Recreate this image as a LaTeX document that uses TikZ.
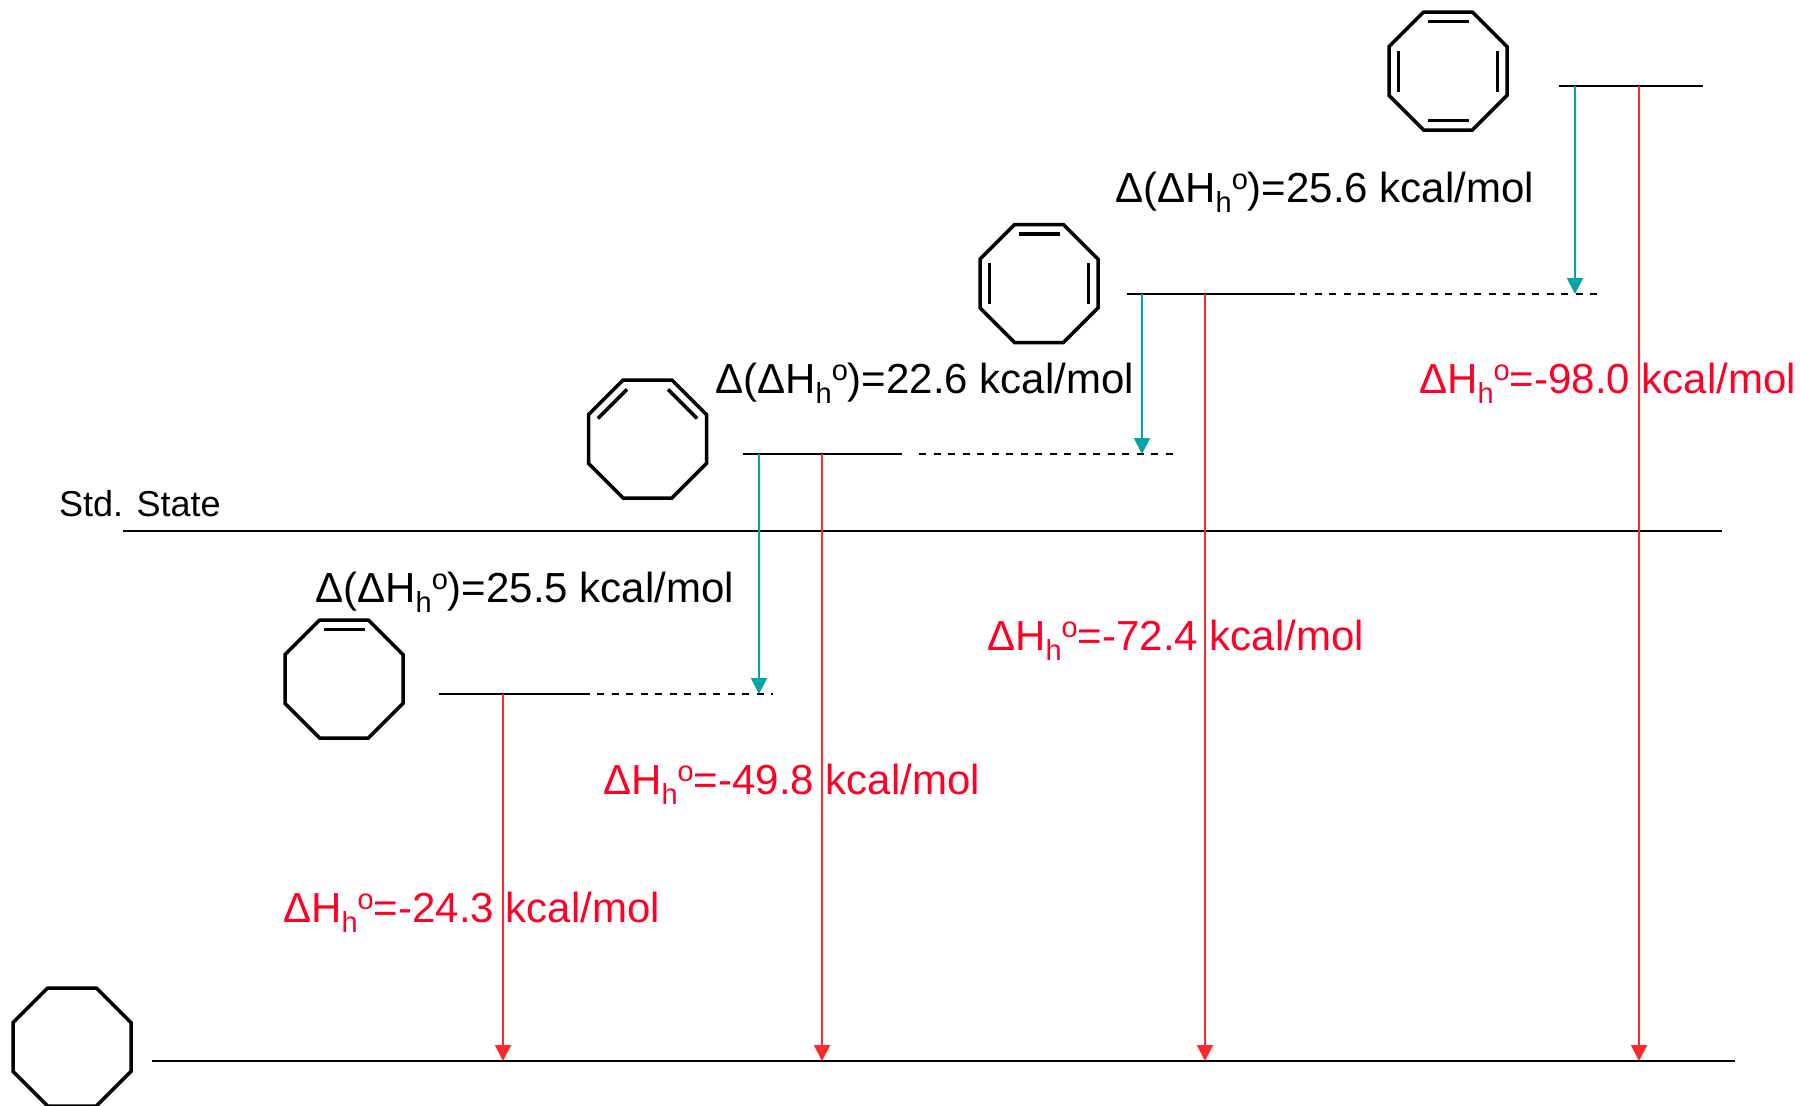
\documentclass[tikz,border=0pt]{standalone}
\usepackage{fontspec}
\setmainfont{Liberation Sans}
\usetikzlibrary{arrows.meta}
\definecolor{lnred}{RGB}{255,40,40}
\definecolor{txred}{RGB}{255,0,38}
\definecolor{tealc}{RGB}{0,166,166}
\newcommand\hsub{\raisebox{-10.5pt}{\fontsize{29}{29}\selectfont h}}
\newcommand\osup{\raisebox{12.6pt}{\fontsize{29}{29}\selectfont o}}
\newcommand\ddH[1]{Δ(ΔH\hsub\osup)=#1 kcal/mol}
\newcommand\dH[1]{ΔH\hsub\osup=#1 kcal/mol}
\tikzset{
  ringline/.style={line width=3.5pt, line join=miter},
  level/.style={line width=2.2pt},
  dashlevel/.style={line width=2.2pt, dash pattern=on 7pt off 7.5pt},
  tarrow/.style={line width=2pt, draw=tealc, -{Triangle[width=16pt,length=16pt]}, fill=tealc},
  rarrow/.style={line width=2pt, draw=lnred, -{Triangle[width=16pt,length=16pt]}, fill=lnred},
  blabel/.style={anchor=base west, inner sep=0pt, font=\fontsize{42}{50}\selectfont},
  rlabel/.style={blabel, text=txred},
  ring/.pic={\draw[ringline] (-24.4,-59) -- (24.4,-59) -- (59,-24.4) -- (59,24.4) -- (24.4,59) -- (-24.4,59) -- (-59,24.4) -- (-59,-24.4) -- cycle;},
  dbtop/.pic={\draw[ringline] (-20.5,-49.6) -- (20.5,-49.6);},
  dbbot/.pic={\draw[ringline] (-20.5,49.6) -- (20.5,49.6);},
  dbleft/.pic={\draw[ringline] (-49.6,-20.5) -- (-49.6,20.5);},
  dbright/.pic={\draw[ringline] (49.6,-20.5) -- (49.6,20.5);},
  dbul/.pic={\draw[ringline] (-49.6,-20.5) -- (-20.5,-49.6);},
  dbur/.pic={\draw[ringline] (49.6,-20.5) -- (20.5,-49.6);},
}
\begin{document}
\begin{tikzpicture}[x=1pt,y=-1pt]
\useasboundingbox (0,0) rectangle (1800,1106);

% molecules
\coordinate (mane) at (72,1047);
\coordinate (mene) at (344,679);
\coordinate (mdiene) at (647.5,439);
\coordinate (mtriene) at (1039,283.5);
\coordinate (mtetra) at (1448,71);
\pic at (mane) {ring};
\pic at (mene) {ring}; \pic at (mene) {dbtop};
\pic at (mdiene) {ring}; \pic at (mdiene) {dbul}; \pic at (mdiene) {dbur};
\pic at (mtriene) {ring}; \pic at (mtriene) {dbtop}; \pic at (mtriene) {dbleft}; \pic at (mtriene) {dbright};
\pic at (mtetra) {ring}; \pic at (mtetra) {dbtop}; \pic at (mtetra) {dbbot}; \pic at (mtetra) {dbleft}; \pic at (mtetra) {dbright};

% level coordinates
\coordinate (l0a) at (152,1061);  \coordinate (l0b) at (1735,1061);
\coordinate (sa) at (123,531);    \coordinate (sb) at (1722,531);
\coordinate (l1a) at (439,694);   \coordinate (l1b) at (590,694);
\coordinate (d1a) at (597,694);   \coordinate (d1b) at (773,694);
\coordinate (l2a) at (743,454);   \coordinate (l2b) at (902,454);
\coordinate (d2a) at (919,454);   \coordinate (d2b) at (1175,454);
\coordinate (l3a) at (1127,294);  \coordinate (l3b) at (1295,294);
\coordinate (d3a) at (1300,294);  \coordinate (d3b) at (1603,294);
\coordinate (l4a) at (1559,86);   \coordinate (l4b) at (1703,86);

% level lines
\draw[level] (l0a) -- (l0b);
\draw[level] (sa) -- (sb);
\draw[level] (l1a) -- (l1b);
\draw[dashlevel] (d1a) -- (d1b);
\draw[level] (l2a) -- (l2b);
\draw[dashlevel] (d2a) -- (d2b);
\draw[level] (l3a) -- (l3b);
\draw[dashlevel] (d3a) -- (d3b);
\draw[level] (l4a) -- (l4b);

% arrow end points
\coordinate (t1s) at (759,454);  \coordinate (t1e) at (759,694);
\coordinate (t2s) at (1142,294); \coordinate (t2e) at (1142,454);
\coordinate (t3s) at (1575,86);  \coordinate (t3e) at (1575,294);
\coordinate (r1s) at (503,694);  \coordinate (r1e) at (503,1061);
\coordinate (r2s) at (822,454);  \coordinate (r2e) at (822,1061);
\coordinate (r3s) at (1205,294); \coordinate (r3e) at (1205,1061);
\coordinate (r4s) at (1639,86);  \coordinate (r4e) at (1639,1061);

\draw[tarrow] (t1s) -- (t1e);
\draw[tarrow] (t2s) -- (t2e);
\draw[tarrow] (t3s) -- (t3e);
\draw[rarrow] (r1s) -- (r1e);
\draw[rarrow] (r2s) -- (r2e);
\draw[rarrow] (r3s) -- (r3e);
\draw[rarrow] (r4s) -- (r4e);

% labels
\node[anchor=base west, inner sep=0pt, font=\fontsize{36}{42}\selectfont] (std) at (59,516) {Std. State};
\node[blabel] (dd1) at (315,602) {\ddH{25.5}};
\node[blabel] (dd2) at (715,393) {\ddH{22.6}};
\node[blabel] (dd3) at (1115,202) {\ddH{25.6}};
\node[rlabel] (h1) at (283,922) {\dH{-24.3}};
\node[rlabel] (h2) at (603,794) {\dH{-49.8}};
\node[rlabel] (h3) at (987,650) {\dH{-72.4}};
\node[rlabel] (h4) at (1419,393) {\dH{-98.0}};
\end{tikzpicture}
\end{document}
